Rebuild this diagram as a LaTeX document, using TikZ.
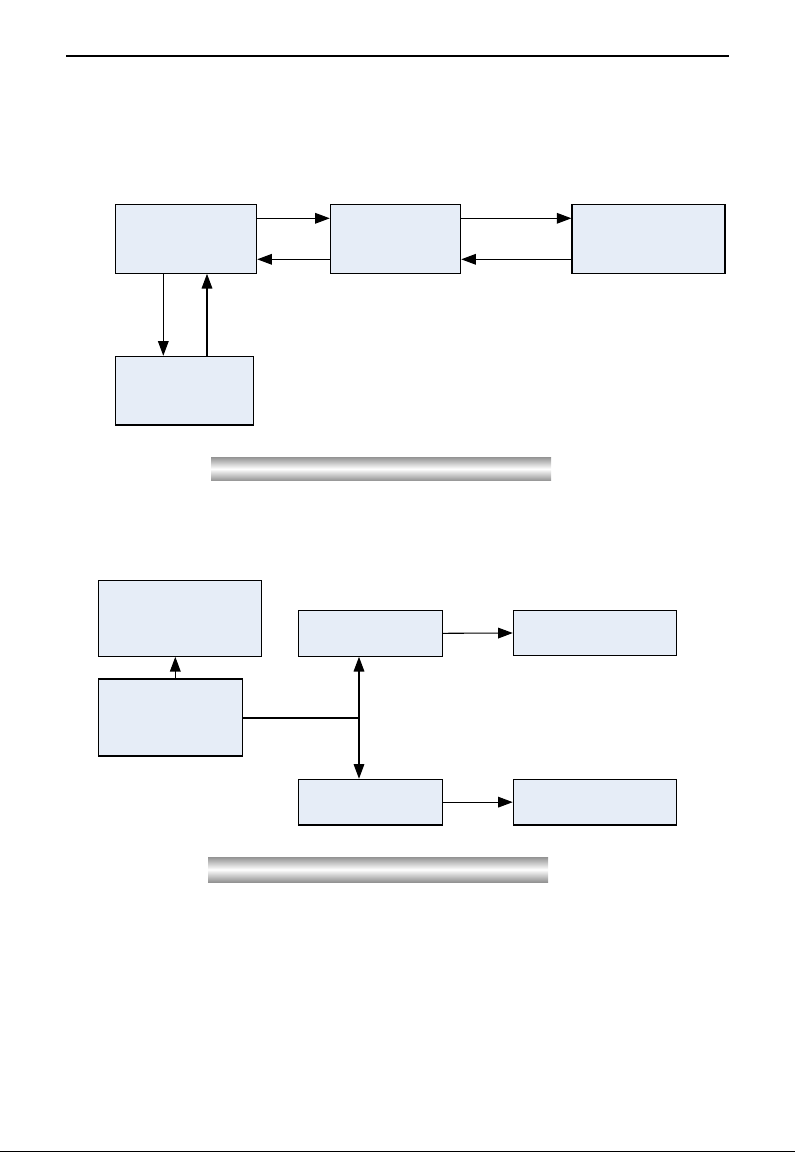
\documentclass[tikz,border=0pt]{standalone}
\usetikzlibrary{shapes,backgrounds}
\usetikzlibrary{arrows.meta,fit}
\definecolor{boxblue}{RGB}{230,237,247}
\tikzset{
  blk/.style={draw, fill=boxblue, line width=0.8pt, inner sep=0pt},
  arr/.style={line width=0.8pt, -{Triangle[length=11pt,width=8pt]}},
  bar/.style={top color=gray!85, bottom color=gray!85, middle color=white}
}
\begin{document}
\begin{tikzpicture}[x=0.75pt, y=-0.75pt]
\useasboundingbox (0,0) rectangle (795,1152);
\draw[line width=1.5pt] (66,56.5) -- (729,56.5);
\node[blk, fit={(115.7,204.3) (256.7,273.3)}] (usr) {};
\node[blk, fit={(330.3,204.3) (460.7,273.3)}] (ctl) {};
\node[blk, fit={(572,204.3) (725,273.3)}] (dev) {};
\node[blk, fit={(115.7,356.3) (253.3,425)}] (mem) {};
\draw[arr] (usr.east |- 0,218.3) -- (ctl.west |- 0,218.3);
\draw[arr] (ctl.west |- 0,259.3) -- (usr.east |- 0,259.3);
\draw[arr] (ctl.east |- 0,218.3) -- (dev.west |- 0,218.3);
\draw[arr] (dev.west |- 0,259.3) -- (ctl.east |- 0,259.3);
\draw[arr] (usr.south -| 163.3,0) -- (mem.north -| 163.3,0);
\draw[arr] (mem.north -| 207,0) -- (usr.south -| 207,0);
\shade[bar] (211,457) rectangle (551,480.7);
\node[blk, fit={(98.3,580.3) (261.3,656.3)}] (disp) {};
\node[blk, fit={(98.3,679) (242.3,756)}] (cpu) {};
\node[blk, fit={(298.3,610.3) (442.3,656.3)}] (outa) {};
\node[blk, fit={(513.3,610.3) (676.3,655.7)}] (loda) {};
\node[blk, fit={(298.3,779.3) (442.3,825)}] (outb) {};
\node[blk, fit={(513.3,779.3) (676.7,825)}] (lodb) {};
\coordinate (jn) at (359,718);
\draw[arr] (cpu.north -| 175.3,0) -- (disp.south -| 175.3,0);
\draw[line width=0.8pt] (cpu.east |- jn) -- (jn);
\draw[arr] (jn) -- (outa.south -| jn);
\draw[arr] (jn) -- (outb.north -| jn);
\draw[arr] (outa.east) -- (loda.west);
\draw[arr] (outb.east) -- (lodb.west);
\shade[bar] (208,857) rectangle (548,882);
\draw[line width=0.6pt] (0,1151.5) -- (795,1151.5);
\end{tikzpicture}
\end{document}
